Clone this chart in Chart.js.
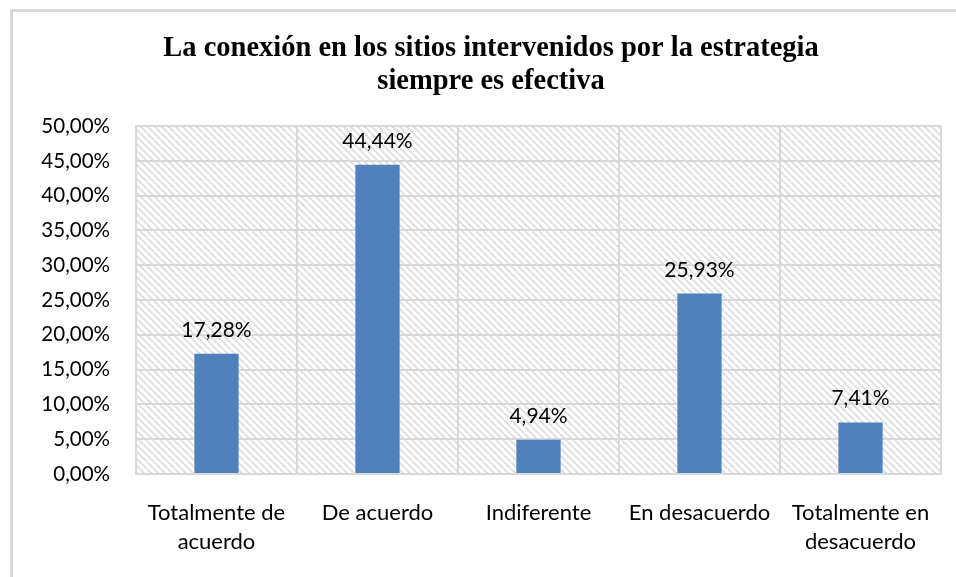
<!DOCTYPE html>
<html>
<head>
<meta charset="utf-8">
<script src="https://cdn.jsdelivr.net/npm/chart.js@4"></script>
<style>
  body { margin: 0; overflow: hidden; background: #fff; }
  #wrap { position: relative; width: 956px; height: 577px; }
  #frame {
    position: absolute; left: 10px; top: 9px; width: 1000px; height: 1000px;
    border: 3px solid #d9d9d9; pointer-events: none;
  }
</style>
</head>
<body>
<div id="wrap">
  <canvas id="chart" width="956" height="577"></canvas>
  <div id="frame"></div>
</div>
<script>
// data
const categories = [
  ["Totalmente de", "acuerdo"],
  "De acuerdo",
  "Indiferente",
  "En desacuerdo",
  ["Totalmente en", "desacuerdo"],
];
const values = [17.28, 44.44, 4.94, 25.93, 7.41];
const titleLines = [
  "La conexión en los sitios intervenidos por la estrategia",
  "siempre es efectiva",
];
const yMax = 50;
const yStep = 5;

function pct(v) {
  return v.toFixed(2).replace(".", ",") + "%";
}

// diagonal hatch for the plot area
function makeHatch(ctx) {
  const s = 7;
  const tile = document.createElement("canvas");
  tile.width = s;
  tile.height = s;
  const t = tile.getContext("2d");
  t.fillStyle = "#ffffff";
  t.fillRect(0, 0, s, s);
  t.strokeStyle = "#dddddd";
  t.lineWidth = 1.8;
  for (const k of [-s, 0, s]) {
    t.beginPath();
    t.moveTo(k, 0);
    t.lineTo(k + s, s);
    t.stroke();
  }
  return ctx.createPattern(tile, "repeat");
}

const hatchBackground = {
  id: "hatchBackground",
  beforeDraw(chart) {
    const { ctx, chartArea } = chart;
    ctx.save();
    ctx.fillStyle = makeHatch(ctx);
    ctx.fillRect(chartArea.left, chartArea.top,
      chartArea.right - chartArea.left, chartArea.bottom - chartArea.top);
    ctx.restore();
  },
};

const valueLabels = {
  id: "valueLabels",
  afterDatasetsDraw(chart) {
    const { ctx } = chart;
    const meta = chart.getDatasetMeta(0);
    ctx.save();
    ctx.font = "21px Lato";
    ctx.fillStyle = "#000";
    ctx.textAlign = "center";
    ctx.textBaseline = "alphabetic";
    meta.data.forEach((bar, i) => {
      ctx.fillText(pct(values[i]), bar.x, bar.y - 17);
    });
    ctx.restore();
  },
};

const canvas = document.querySelector("#chart");
new Chart(canvas.getContext("2d"), {
  type: "bar",
  data: {
    labels: categories,
    datasets: [
      {
        data: values,
        backgroundColor: "#4f81bd",
        barPercentage: 0.55,
        categoryPercentage: 0.5,
      },
    ],
  },
  options: {
    responsive: false,
    animation: false,
    layout: { padding: { left: 41, top: 0, right: 15, bottom: 0 } },
    scales: {
      x: {
        grid: { color: "#d9d9d9", lineWidth: 2, drawTicks: false, offset: true },
        border: { color: "#d9d9d9", width: 2 },
        ticks: {
          color: "#000",
          font: { family: "Lato", size: 22, lineHeight: 1.32 },
          padding: 24,
          maxRotation: 0,
          autoSkip: false,
        },
        afterFit(scale) {
          scale.height = 103;
        },
      },
      y: {
        min: 0,
        max: yMax,
        grid: { color: "#d9d9d9", lineWidth: 2, drawTicks: false },
        border: { color: "#d9d9d9", width: 2 },
        ticks: {
          stepSize: yStep,
          color: "#000",
          font: { family: "Lato", size: 20.5 },
          padding: 26,
          callback: (v) => pct(v),
        },
        afterFit(scale) {
          scale.width = 95;
        },
      },
    },
    plugins: {
      legend: { display: false },
      tooltip: { enabled: false },
      title: {
        display: true,
        text: titleLines,
        color: "#000",
        font: { family: "Liberation Serif", size: 28.5, weight: "bold", lineHeight: 1.16 },
        padding: { top: 32, bottom: 28 },
      },
    },
  },
  plugins: [hatchBackground, valueLabels],
});
</script>
</body>
</html>
